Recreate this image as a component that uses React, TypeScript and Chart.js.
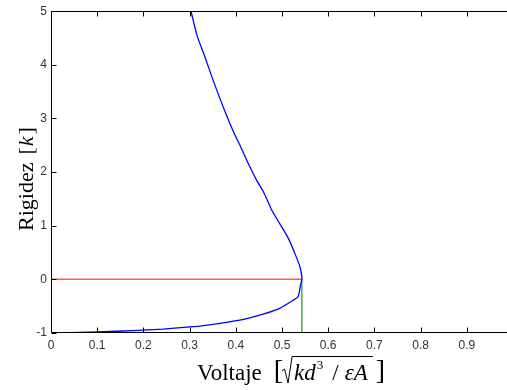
import React, { useEffect, useRef } from "react";
import { Chart, registerables } from "chart.js";

Chart.register(...registerables);

// Curve (voltage, stiffness) read along the path: lower branch, pull-in point, upper branch
const voltage = [
  0.023, 0.099, 0.156, 0.2, 0.242, 0.294, 0.322, 0.366, 0.424, 0.459, 0.495, 0.524, 0.535, 0.54, 0.543,
  0.543, 0.539, 0.528, 0.514, 0.495, 0.478, 0.46, 0.445, 0.427, 0.409, 0.398, 0.377, 0.351, 0.333, 0.316, 0.303,
];
const stiffness = [
  -1.0, -0.98, -0.963, -0.945, -0.926, -0.89, -0.87, -0.82, -0.73, -0.65, -0.54, -0.39, -0.32, -0.11, 0,
  0.05, 0.23, 0.48, 0.76, 1.04, 1.29, 1.63, 1.85, 2.16, 2.5, 2.69, 3.12, 3.71, 4.15, 4.55, 5.0,
];
const pullInVoltage = 0.543;
const xTicks = [0, 0.1, 0.2, 0.3, 0.4, 0.5, 0.6, 0.7, 0.8, 0.9];
const yTicks = [-1, 0, 1, 2, 3, 4, 5];
const xMin = 0;
const xMax = 0.987;
const yMin = -1;
const yMax = 5;

const SERIF = '"Liberation Serif", "Times New Roman", serif';

const framePlugin = {
  id: "matlabFrame",
  afterDatasetsDraw(chart: any) {
    const { ctx, chartArea } = chart;
    const xs = chart.scales.x;
    const ys = chart.scales.y;
    const L = Math.round(chartArea.left) + 0.5;
    const R = Math.round(chartArea.right) - 0.5;
    const T = Math.round(chartArea.top) + 0.5;
    const B = Math.round(chartArea.bottom) - 0.5;
    ctx.save();
    ctx.strokeStyle = "#000";
    ctx.lineWidth = 1;
    ctx.beginPath();
    ctx.moveTo(L, T);
    ctx.lineTo(R + 2, T);
    ctx.moveTo(L, T);
    ctx.lineTo(L, B);
    ctx.lineTo(R + 2, B);
    const tl = 5;
    xTicks.forEach((v) => {
      const px = Math.round(xs.getPixelForValue(v)) + 0.5;
      ctx.moveTo(px, B);
      ctx.lineTo(px, B - tl);
      ctx.moveTo(px, T);
      ctx.lineTo(px, T + tl);
    });
    yTicks.forEach((v) => {
      const py = Math.round(ys.getPixelForValue(v)) + 0.5;
      ctx.moveTo(L, py);
      ctx.lineTo(L + tl, py);
    });
    ctx.stroke();
    ctx.restore();
  },
  afterDraw(chart: any) {
    const { ctx } = chart;
    ctx.save();
    ctx.fillStyle = "#000";
    ctx.strokeStyle = "#000";
    ctx.textBaseline = "alphabetic";
    ctx.textAlign = "left";

    // X title: Voltaje  [ sqrt(k d^3 / eps A) ]
    const base = 380;
    let x = 197;
    ctx.font = `23px ${SERIF}`;
    ctx.fillText("Voltaje", x, base);
    x += ctx.measureText("Voltaje").width + 12;
    ctx.font = `28px ${SERIF}`;
    ctx.fillText("[", x, base - 1);
    x += ctx.measureText("[").width - 1;
    // radical sign
    const top = 356;
    ctx.lineWidth = 1;
    ctx.beginPath();
    ctx.moveTo(x, base - 9);
    ctx.lineTo(x + 2.5, base - 11);
    ctx.lineTo(x + 6, base + 3);
    ctx.lineTo(x + 10, top + 0.5);
    ctx.stroke();
    const olStart = x + 10;
    x += 12;
    ctx.font = `italic 23px ${SERIF}`;
    ctx.fillText("kd", x, base);
    x += ctx.measureText("kd").width + 1;
    ctx.font = `13px ${SERIF}`;
    ctx.fillText("3", x, base - 11);
    x += ctx.measureText("3").width + 9;
    ctx.font = `23px ${SERIF}`;
    ctx.fillText("/", x, base);
    x += ctx.measureText("/").width + 6;
    ctx.font = `italic 23px ${SERIF}`;
    ctx.fillText("εA", x, base);
    x += ctx.measureText("εA").width + 5;
    ctx.beginPath();
    ctx.moveTo(olStart, top + 0.5);
    ctx.lineTo(x, top + 0.5);
    ctx.stroke();
    x += 3;
    ctx.font = `28px ${SERIF}`;
    ctx.fillText("]", x, base - 1);

    // Y title: Rigidez  [k]
    ctx.translate(33, 231);
    ctx.rotate(-Math.PI / 2);
    let y = 0;
    ctx.font = `22px ${SERIF}`;
    ctx.fillText("Rigidez", y, 0);
    y += ctx.measureText("Rigidez").width + 8;
    ctx.fillText("[", y, 0);
    y += ctx.measureText("[").width + 1;
    ctx.font = `italic 22px ${SERIF}`;
    ctx.fillText("k", y, 0);
    y += ctx.measureText("k").width + 2;
    ctx.font = `22px ${SERIF}`;
    ctx.fillText("]", y, 0);
    ctx.restore();
  },
};

export default function App() {
  const ref = useRef<HTMLCanvasElement | null>(null);
  useEffect(() => {
    if (!ref.current) return;
    const curve = voltage.map((v, i) => ({ x: v, y: stiffness[i] }));
    const chart = new Chart(ref.current, {
      type: "scatter",
      data: {
        datasets: [
          {
            data: curve,
            showLine: true,
            borderColor: "#0000ff",
            borderWidth: 1.3,
            pointRadius: 0,
            tension: 0.2,
          },
          {
            data: [
              { x: xMin, y: 0 },
              { x: pullInVoltage, y: 0 },
            ],
            showLine: true,
            borderColor: "#ff5a5a",
            borderWidth: 1.5,
            pointRadius: 0,
          },
          {
            data: [
              { x: pullInVoltage, y: yMin },
              { x: pullInVoltage, y: 0 },
            ],
            showLine: true,
            borderColor: "#2e9a2e",
            borderWidth: 1.3,
            pointRadius: 0,
          },
        ],
      },
      options: {
        responsive: false,
        animation: false,
        devicePixelRatio: 1,
        layout: { padding: { top: 11, right: 0, left: 0, bottom: 0 } },
        plugins: { legend: { display: false }, tooltip: { enabled: false } },
        scales: {
          x: {
            type: "linear",
            min: xMin,
            max: xMax,
            grid: { display: false, drawTicks: false },
            border: { display: false },
            afterBuildTicks: (scale: any) => {
              scale.ticks = xTicks.map((v) => ({ value: v }));
            },
            afterFit: (scale: any) => {
              scale.height = 57;
            },
            ticks: {
              padding: 5,
              maxRotation: 0,
              color: "#333",
              font: { family: '"Liberation Sans", Arial, sans-serif', size: 12 },
              callback: (v: any) => String(v),
            },
          },
          y: {
            type: "linear",
            min: yMin,
            max: yMax,
            grid: { display: false, drawTicks: false },
            border: { display: false },
            afterBuildTicks: (scale: any) => {
              scale.ticks = yTicks.map((v) => ({ value: v }));
            },
            afterFit: (scale: any) => {
              scale.width = 51;
            },
            ticks: {
              padding: 4,
              color: "#333",
              font: { family: '"Liberation Sans", Arial, sans-serif', size: 12 },
              callback: (v: any) => String(v),
            },
          },
        },
      },
      plugins: [framePlugin],
    } as any);
    return () => chart.destroy();
  }, []);
  return (
    <div style={{ position: "fixed", left: 0, top: 0, width: 507, height: 390, background: "#fff" }}>
      <canvas ref={ref} width={507} height={390} style={{ width: 507, height: 390, display: "block" }} />
    </div>
  );
}
